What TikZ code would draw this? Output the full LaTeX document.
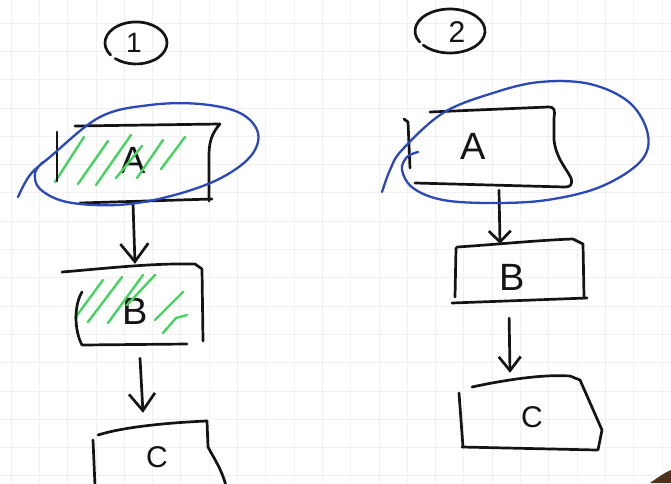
\documentclass[tikz,border=0pt]{standalone}
\usepackage{fontspec}
\setmainfont{Liberation Sans}
\usepackage{tikz}
\usetikzlibrary{arrows.meta}

\definecolor{inkblack}{RGB}{20,20,20}
\definecolor{inkblue}{RGB}{42,72,186}
\definecolor{inkgreen}{RGB}{70,212,96}
\definecolor{gridpink}{RGB}{242,238,242}
\definecolor{deskbrown}{RGB}{78,50,28}

\begin{document}
\begin{tikzpicture}[x=1pt, y=-1pt,
    pen/.style={draw=inkblack, line width=2.7pt, line cap=round, line join=round},
    lasso/.style={draw=inkblue, line width=2.3pt, line cap=round},
    hatch/.style={draw=inkgreen, line width=2.4pt, line cap=round},
    arr/.style 2 args={pen, -{Straight Barb[length=#1, width=#2]}},
    letter/.style={inner sep=0pt, text=inkblack, font=\fontsize{38}{38}\selectfont},
    gridline/.style={draw=gridpink, line width=0.8pt}]
    \useasboundingbox (0,0) rectangle (671,483);
    \fill[white] (0,0) rectangle (671,483);
    \foreach \k in {0,...,23} \draw[gridline] (11+28.3*\k,0) -- (11+28.3*\k,483);
    \foreach \k in {0,...,16} \draw[gridline] (0,23+28.3*\k) -- (671,23+28.3*\k);

    \node[letter, font=\fontsize{28}{28}\selectfont] (n1) at (134,43) {1};
    \node[letter, font=\fontsize{30}{30}\selectfont] (n2) at (457,32) {2};
    \draw[pen] ([shift={(-23.4,12)}]n1.center) arc[start angle=145, end angle=492, x radius=31, y radius=21];
    \draw[pen] ([shift={(-37.3,10)}]n2.center) arc[start angle=150, end angle=500, x radius=35, y radius=22];

    \node[letter, minimum height=86pt] (a1) at (133,160) {A};
    \node[letter, minimum height=94pt] (b1) at (135,311) {B};
    \node[letter, minimum height=88pt, font=\fontsize{30}{30}\selectfont] (c1) at (157,457) {C};
    \node[letter, minimum height=88pt] (a2) at (473,146) {A};
    \node[letter, minimum height=66pt] (b2) at (512,277) {B};
    \node[letter, minimum height=88pt, font=\fontsize{30}{30}\selectfont] (c2) at (532,417) {C};

    \draw[hatch] (55,182) -- (84,137) (78,184) -- (108,141) (96,185) -- (131,135)
        (116,178) -- (142,146) (137,178) -- (163,140) (161,169) -- (185,137);
    \draw[hatch] (75,318) -- (103,280) (88,322) -- (122,277) (108,323) -- (143,275)
        (127,305) -- (155,275) (155,320) -- (183,292) (163,333) -- (176,318) -- (187,315);

    \draw[pen] (75,126) -- (220,124) .. controls (213,132) and (209,140) .. (209,155) -- (209,201);
    \draw[pen] (80,203) -- (212,199);
    \draw[pen] (57,132) -- (57,181);
    \draw[pen] (62,272) .. controls (100,269) and (150,263) .. (195,264) -- (202,269) -- (203,341);
    \draw[pen] (82,292) .. controls (74,305) and (74,330) .. (82,345) -- (187,344);
    \draw[pen] (98,435) .. controls (120,428) and (160,423) .. (207,421) -- (208,447)
        .. controls (215,460) and (222,470) .. (226,486);
    \draw[pen] (93,440) -- (95,486);

    \draw[pen] (430,112) -- (548,107) .. controls (555,107) and (555,110) .. (554,118) -- (554,140)
        .. controls (556,158) and (566,168) .. (571,178) .. controls (573,185) and (570,187) .. (565,187) -- (415,183);
    \draw[pen] (404,119) -- (408,122) -- (410,168);
    \draw[pen] (457,247) .. controls (490,245) and (540,240) .. (573,239) -- (583,244) -- (584,297);
    \draw[pen] (456,248) -- (455,297);
    \draw[pen] (452,303) -- (587,298);
    \draw[pen] (472,387) .. controls (500,381) and (540,374) .. (570,376) -- (580,380) -- (602,430) -- (598,450);
    \draw[pen] (459,393) -- (463,447);
    \draw[pen] (462,447) -- (597,450);

    \draw[arr={18pt}{28pt}] (a1.south) -- (b1.north);
    \draw[arr={17pt}{26pt}] ([xshift=5pt]b1.south) -- ([xshift=-14pt]c1.north);
    \draw[arr={11pt}{22pt}] ([xshift=26pt]a2.south) -- ([xshift=-12pt]b2.north);
    \draw[arr={14pt}{22pt}, shorten <=8pt] ([xshift=-3pt]b2.south) -- ([xshift=-22pt]c2.north);

    \draw[lasso] plot[smooth, tension=0.6] coordinates {(18,197) (30,175) (50,157) (100,117) (150,105) (200,104)
        (240,113) (258,133) (250,157) (217,180) (167,197) (117,205) (67,202) (40,189) (35,173) (43,162)};
    \draw[lasso] plot[smooth, tension=0.6] coordinates {(382,192) (390,170) (402,150) (443,113) (493,93) (540,82)
        (590,84) (630,103) (648,135) (640,162) (600,187) (547,200) (493,203) (443,200) (413,188) (402,170) (407,157) (418,152)};

    \fill[deskbrown] (650,483) .. controls (657,478) and (664,473) .. (671,470) -- (671,483) -- cycle;
\end{tikzpicture}
\end{document}
